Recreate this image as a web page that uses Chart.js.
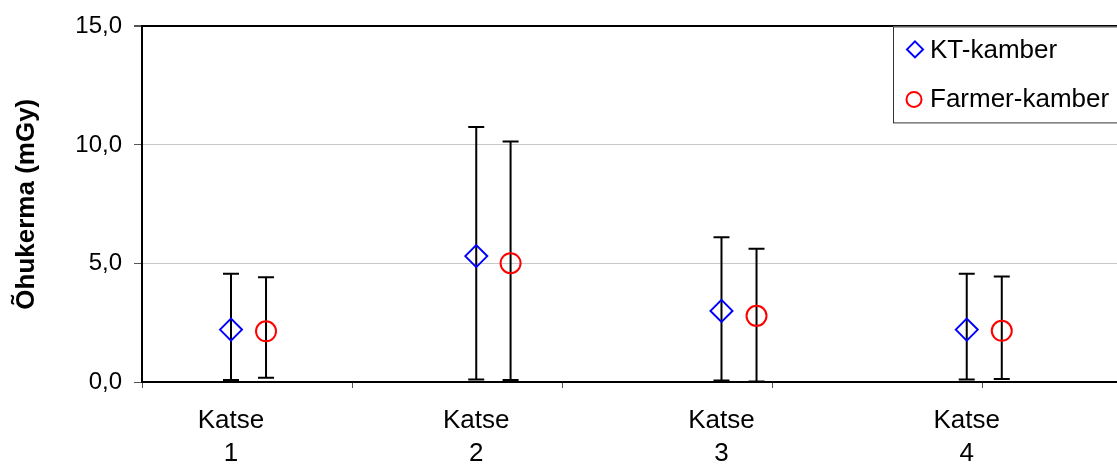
<!DOCTYPE html>
<html>
<head>
<meta charset="utf-8">
<script src="https://cdn.jsdelivr.net/npm/chart.js@4/dist/chart.umd.min.js"></script>
<style>
  html, body { margin: 0; padding: 0; background: #fff; overflow: hidden; }
  #wrap { width: 1136px; height: 464px; }
  #doseChart { display: block; }
</style>
</head>
<body>
<div id="wrap"><canvas id="doseChart" width="1136" height="464"></canvas></div>
<script>
// categories and their x positions (KT left, Farmer right of each group)
const categories = ["Katse 1", "Katse 2", "Katse 3", "Katse 4"];
const xKT = [2.54, 9.54, 16.54, 23.54];
const xFarmer = [3.54, 10.52, 17.54, 24.54];

// air kerma (mGy) with error bar ends
const ktValues = [2.21, 5.31, 3.0, 2.21];
const ktLow = [0.08, 0.11, 0.06, 0.11];
const ktHigh = [4.57, 10.76, 6.11, 4.57];
const farmerValues = [2.14, 5.01, 2.79, 2.16];
const farmerLow = [0.18, 0.08, 0.02, 0.13];
const farmerHigh = [4.42, 10.14, 5.62, 4.45];

const yTicks = [0, 5, 10, 15];
const xTickMarks = [0, 6, 12, 18, 24];

const FONT = "'Liberation Sans', Arial, sans-serif";

function points(xs, ys) {
  return xs.map((x, i) => ({ x: x, y: ys[i] }));
}

// vertical error bars with caps, drawn under the markers
const errorBars = {
  id: "errorBars",
  beforeDatasetsDraw(chart) {
    const ctx = chart.ctx;
    const xs = chart.scales.x, ys = chart.scales.y;
    ctx.save();
    ctx.strokeStyle = "#000";
    ctx.lineWidth = 2;
    chart.data.datasets.forEach((ds) => {
      ds.data.forEach((p, i) => {
        const px = xs.getPixelForValue(p.x);
        const top = ys.getPixelForValue(ds.errHigh[i]);
        const bot = ys.getPixelForValue(ds.errLow[i]);
        ctx.beginPath();
        ctx.moveTo(px, top); ctx.lineTo(px, bot);
        ctx.moveTo(px - 8, top); ctx.lineTo(px + 8, top);
        ctx.moveTo(px - 8, bot); ctx.lineTo(px + 8, bot);
        ctx.stroke();
      });
    });
    ctx.restore();
  }
};

// boxed legend in the top right corner of the plot
const boxLegend = {
  id: "boxLegend",
  afterDraw(chart) {
    const ctx = chart.ctx;
    const top = chart.chartArea.top;
    ctx.save();
    ctx.fillStyle = "#fff";
    ctx.fillRect(893, top, 260, 96);
    ctx.strokeStyle = "#333";
    ctx.lineWidth = 1;
    ctx.strokeRect(893.5, top + 0.5, 260, 96);
    ctx.lineWidth = 2;
    // diamond
    ctx.strokeStyle = "#0000ff";
    ctx.beginPath();
    ctx.moveTo(915, top + 15); ctx.lineTo(923, top + 23);
    ctx.lineTo(915, top + 31); ctx.lineTo(907, top + 23);
    ctx.closePath(); ctx.stroke();
    // circle
    ctx.strokeStyle = "#ff0000";
    ctx.beginPath();
    ctx.arc(914, top + 73, 7.5, 0, Math.PI * 2);
    ctx.stroke();
    ctx.fillStyle = "#000";
    ctx.font = "26px " + FONT;
    ctx.textBaseline = "middle";
    chart.data.datasets.forEach((ds, i) => {
      ctx.fillText(ds.label, 930, top + 24 + i * 49);
    });
    ctx.restore();
  }
};

new Chart(document.getElementById("doseChart").getContext("2d"), {
  type: "scatter",
  data: {
    datasets: [
      {
        label: "KT-kamber",
        data: points(xKT, ktValues),
        errLow: ktLow,
        errHigh: ktHigh,
        pointStyle: "rectRot",
        pointRadius: 11,
        borderColor: "#0000ff",
        backgroundColor: "rgba(0,0,0,0)",
        borderWidth: 2,
      },
      {
        label: "Farmer-kamber",
        data: points(xFarmer, farmerValues),
        errLow: farmerLow,
        errHigh: farmerHigh,
        pointStyle: "circle",
        pointRadius: 10,
        borderColor: "#ff0000",
        backgroundColor: "rgba(0,0,0,0)",
        borderWidth: 2,
      },
    ],
  },
  options: {
    responsive: false,
    animation: false,
    events: [],
    layout: { padding: { top: 25, right: 0, bottom: 0, left: 0 } },
    plugins: {
      legend: { display: false },
      tooltip: { enabled: false },
    },
    scales: {
      y: {
        min: 0,
        max: 15,
        afterBuildTicks: (s) => { s.ticks = yTicks.map((v) => ({ value: v })); },
        afterFit: (s) => { s.width = 142; },
        ticks: {
          color: "#000",
          font: { family: FONT, size: 24 },
          padding: 12,
          callback: (v) => v.toFixed(1).replace(".", ","),
        },
        grid: {
          color: (c) => (c.tick && c.tick.value === 15 ? "#000" : "#c8c8c8"),
          lineWidth: (c) => (c.tick && c.tick.value === 15 ? 2 : 1),
          tickColor: "#555",
          tickLength: 8,
        },
        border: { color: "#000", width: 2 },
        title: {
          display: true,
          text: "Õhukerma (mGy)",
          color: "#000",
          font: { family: FONT, size: 26, weight: "bold" },
          padding: { top: 11, bottom: 0 },
        },
      },
      x: {
        type: "linear",
        min: 0,
        max: 28,
        weight: 0,
        afterBuildTicks: (s) => { s.ticks = xTickMarks.map((v) => ({ value: v })); },
        afterFit: (s) => { s.height = 6; },
        ticks: { display: false },
        grid: { drawOnChartArea: false, tickLength: 6, tickColor: "#555" },
        border: { color: "#000", width: 2 },
      },
      x2: {
        type: "linear",
        position: "bottom",
        min: 0,
        max: 28,
        weight: 1,
        afterBuildTicks: (s) => { s.ticks = xKT.map((v) => ({ value: v })); },
        afterFit: (s) => { s.height = 76; },
        ticks: {
          color: "#000",
          font: { family: FONT, size: 26, lineHeight: 1.27 },
          padding: 16,
          autoSkip: false,
          maxRotation: 0,
          callback: (v, i) => categories[i].split(" "),
        },
        grid: { display: false, drawTicks: false },
        border: { display: false },
      },
    },
  },
  plugins: [errorBars, boxLegend],
});
</script>
</body>
</html>
